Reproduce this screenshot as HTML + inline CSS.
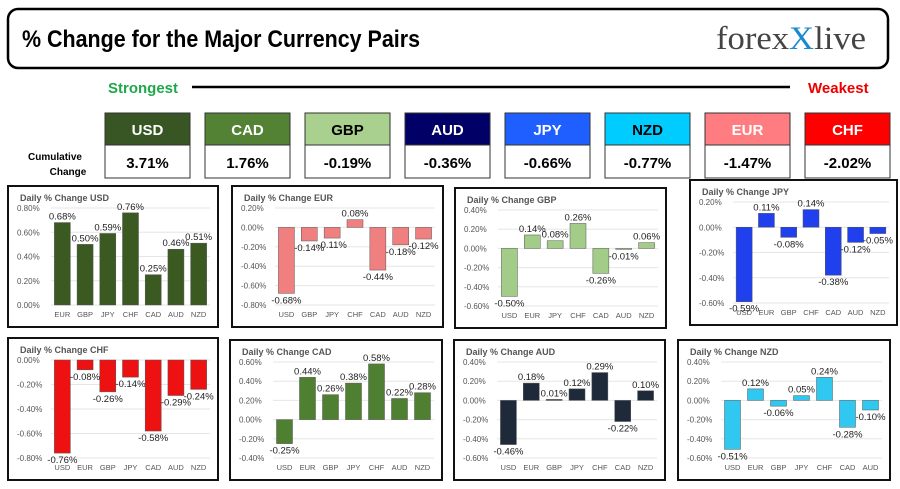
<!DOCTYPE html>
<html><head><meta charset="utf-8"><style>
body{margin:0;width:900px;height:489px;background:#fff;overflow:hidden;font-family:"Liberation Sans",sans-serif}
svg{position:absolute;left:0;top:0}
</style></head><body>
<svg id="s" width="900" height="489" xmlns="http://www.w3.org/2000/svg">
<rect x="8" y="9" width="880" height="59" rx="10" fill="#fff" stroke="#000" stroke-width="2.5"/>
<text x="22" y="47" font-size="24" font-weight="bold" font-family="Liberation Sans Narrow,Liberation Sans,sans-serif" textLength="398" lengthAdjust="spacingAndGlyphs">% Change for the Major Currency Pairs</text>
<text x="716" y="49" font-size="33" font-family="Liberation Serif,serif" fill="#444" textLength="150" lengthAdjust="spacingAndGlyphs">forex<tspan fill="#1a8ad0">X</tspan>live</text>
<text x="108" y="93" font-size="15" font-weight="bold" fill="#1fa84a">Strongest</text>
<line x1="192" y1="87" x2="790" y2="87" stroke="#000" stroke-width="2.5"/>
<text x="808" y="93" font-size="15" font-weight="bold" fill="#e00">Weakest</text>
<text x="55" y="160" font-size="10" font-weight="bold" text-anchor="middle">Cumulative</text>
<text x="68" y="175" font-size="10" font-weight="bold" text-anchor="middle">Change</text>
<g id="boxes"></g><g id="charts"></g>
</svg>
<script>
const NS="http://www.w3.org/2000/svg";
function el(p,t,a,txt){const e=document.createElementNS(NS,t);for(const k in a)e.setAttribute(k,a[k]);if(txt!==undefined)e.textContent=txt;p.appendChild(e);return e;}
const B=document.getElementById('boxes');
const cur=[["USD","3.71%","#375623","#fff"],["CAD","1.76%","#548235","#fff"],["GBP","-0.19%","#a9d08e","#000"],["AUD","-0.36%","#000066","#fff"],["JPY","-0.66%","#1f5fff","#fff"],["NZD","-0.77%","#00ccff","#000"],["EUR","-1.47%","#ff7c80","#fff"],["CHF","-2.02%","#ff0000","#fff"]];
cur.forEach((c,i)=>{const x=105+i*100;
el(B,'rect',{x:x,y:113,width:85,height:32,fill:c[2],stroke:'#333'});
el(B,'rect',{x:x,y:145,width:85,height:33,fill:'#fff',stroke:'#333'});
el(B,'text',{x:x+42.5,y:135,'font-size':15,'font-weight':'bold','text-anchor':'middle',fill:c[3]},c[0]);
el(B,'text',{x:x+42.5,y:168,'font-size':15,'font-weight':'bold','text-anchor':'middle'},c[1]);});
const C=document.getElementById('charts');
const charts=[
["USD",8,186,210,141,0,0.8,["EUR","GBP","JPY","CHF","CAD","AUD","NZD"],[.68,.50,.59,.76,.25,.46,.51],"#3a5a22"],
["EUR",232,186,211,141,-0.8,0.2,["USD","GBP","JPY","CHF","CAD","AUD","NZD"],[-.68,-.14,-.11,.08,-.44,-.18,-.12],"#f08080"],
["GBP",455,188,211,140,-0.6,0.4,["USD","EUR","JPY","CHF","CAD","AUD","NZD"],[-.50,.14,.08,.26,-.26,-.01,.06],"#a3cc88"],
["JPY",690,180,207,145,-0.6,0.2,["USD","EUR","GBP","CHF","CAD","AUD","NZD"],[-.59,.11,-.08,.14,-.38,-.12,-.05],"#2040ee"],
["CHF",8,338,210,142,-0.8,0,["USD","EUR","GBP","JPY","CAD","AUD","NZD"],[-.76,-.08,-.26,-.14,-.58,-.29,-.24],"#ee1111"],
["CAD",230,340,212,140,-0.4,0.6,["USD","EUR","GBP","JPY","CHF","AUD","NZD"],[-.25,.44,.26,.38,.58,.22,.28],"#4f7f30"],
["AUD",454,340,211,140,-0.6,0.4,["USD","EUR","GBP","JPY","CHF","CAD","NZD"],[-.46,.18,.01,.12,.29,-.22,.10],"#1e2a3a"],
["NZD",678,340,212,140,-0.6,0.4,["USD","EUR","GBP","JPY","CHF","CAD","AUD"],[-.51,.12,-.06,.05,.24,-.28,-.10],"#30c8f0"]];
charts.forEach(ch=>{const [n,x,y,w,h,mn,mx,cats,v,col]=ch;
el(C,'rect',{x:x,y:y,width:w,height:h,fill:'#fff',stroke:'#111','stroke-width':2});
el(C,'text',{x:x+12,y:y+15,'font-size':9,'font-weight':'bold',fill:'#555'},'Daily % Change '+n);
const pl=x+43,pr=x+w-8,pt=y+22,pb=y+h-22;
const Y=t=>pb-(t-mn)/(mx-mn)*(pb-pt);
for(let t=mn;t<=mx+1e-9;t+=0.2){const yy=Y(t);
el(C,'line',{x1:pl,y1:yy,x2:pr,y2:yy,stroke:'#e6e6e6'});
el(C,'text',{x:x+9,y:yy+3,'font-size':8,fill:'#555'},(Math.abs(t)<1e-9?0:t).toFixed(2)+'%');}
const sp=(pr-pl)/7;
cats.forEach((c,i)=>{const cx=pl+sp*(i+.5),val=v[i];const y0=Y(0),y1=Y(val);
el(C,'rect',{x:cx-8,y:Math.min(y0,y1),width:16,height:Math.max(1,Math.abs(y1-y0)),fill:col,stroke:'#555','stroke-width':0.5});
el(C,'text',{x:cx,y:pb+12,'font-size':7.5,fill:'#555','text-anchor':'middle'},c);
const ly=val>=0?y1-3:y1+10;
el(C,'text',{x:cx,y:ly,'font-size':9.5,fill:'#222','text-anchor':'middle'},val.toFixed(2)+'%');});});
</script>
</body></html>
